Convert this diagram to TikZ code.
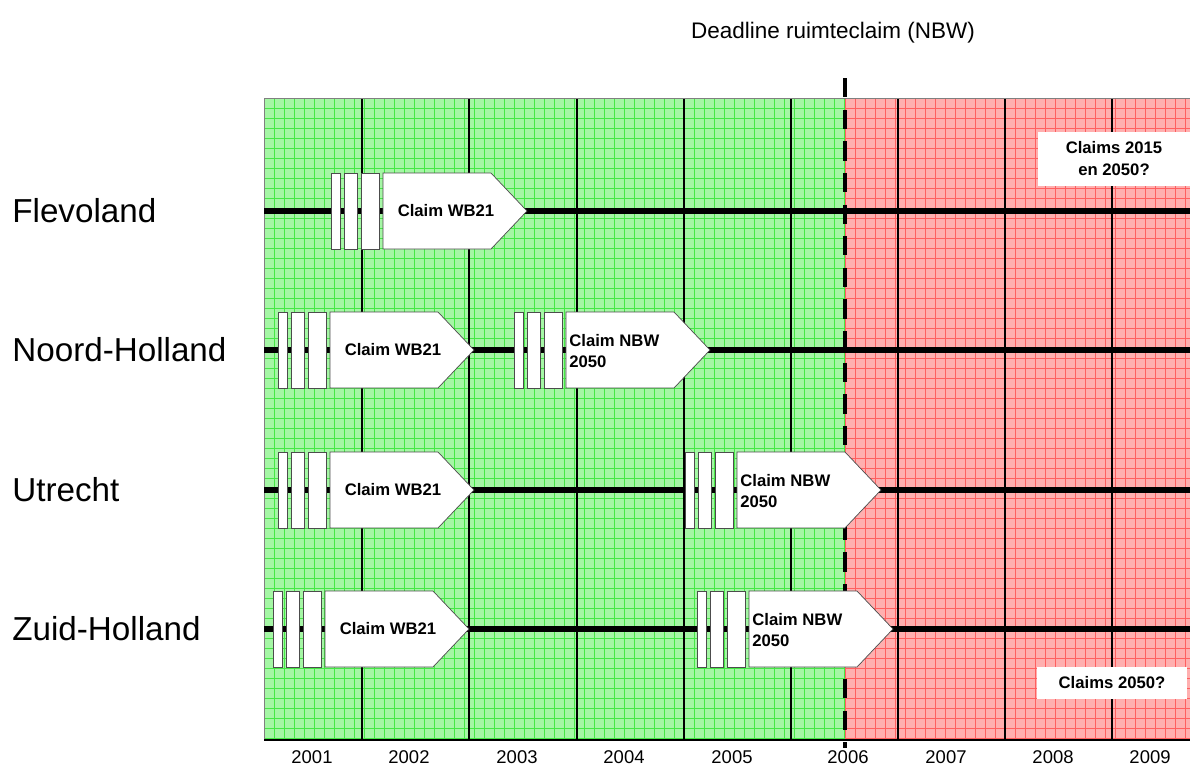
\documentclass[tikz,border=0pt]{standalone}
\usepackage{fontspec}
\setmainfont{Liberation Sans}
\usetikzlibrary{positioning}
\definecolor{okfill}{RGB}{165,246,165}
\definecolor{okgrid}{RGB}{70,232,70}
\definecolor{latefill}{RGB}{255,175,175}
\definecolor{lategrid}{RGB}{255,95,95}
\begin{document}
\begin{tikzpicture}[x=0.02cm,y=-0.02cm,
  rowlabel/.style={anchor=west,inner sep=0pt,font=\fontsize{18.9}{22}\selectfont},
  yearlabel/.style={inner sep=0pt,font=\fontsize{10.5}{12}\selectfont},
  timeline/.style={line width=3.2pt},
  yearline/.style={line width=0.8pt},
  deadline/.style={line width=2.8pt,dash pattern=on 11pt off 7pt},
  bar/.style={draw=black!70,fill=white,line width=0.4pt},
  claimbox/.style={draw=black!70,fill=white,line width=0.4pt},
  claimtext/.style={inner sep=0pt,font=\fontsize{9.5}{12}\selectfont\bfseries},
  notebox/.style={fill=white,inner sep=0pt,align=center,font=\fontsize{9.5}{12.5}\selectfont\bfseries}]
\useasboundingbox (0,0) rectangle (1190,769);
% achtergrond: groen tot de deadline, rood erna
\fill[okfill] (264,98) rectangle (845,740);
\fill[latefill] (845,98) rectangle (1190,740);
\begin{scope}
  \clip (264,98) rectangle (845,740);
  \foreach \x in {264,274,...,845} \draw[okgrid,line width=0.3pt] (\x,98) -- (\x,740);
  \foreach \y in {98,108,...,740} \draw[okgrid,line width=0.3pt] (264,\y) -- (845,\y);
\end{scope}
\begin{scope}
  \clip (845,98) rectangle (1190,740);
  \foreach \x in {845,855,...,1190} \draw[lategrid,line width=0.3pt] (\x,98) -- (\x,740);
  \foreach \y in {98,108,...,740} \draw[lategrid,line width=0.3pt] (845,\y) -- (1190,\y);
\end{scope}
\foreach \x in {362,469,577,684,791,898,1005,1112} \draw[yearline] (\x,98) -- (\x,740);
\draw[black!50,line width=0.4pt] (264,740) -- (264,98) -- (1190,98);
\draw[line width=0.8pt] (264,740) -- (1190,740);

% provincies
\node[rowlabel] (flevo) at (12,211) {Flevoland};
\node[rowlabel] (nholl) at (12,350) {Noord-Holland};
\node[rowlabel] (utr) at (12,490) {Utrecht};
\node[rowlabel] (zholl) at (12,629) {Zuid-Holland};
\foreach \n/\y in {flevo/211,nholl/350,utr/490,zholl/629} {
  \coordinate (\n-s) at (264,\y);
  \coordinate (\n-e) at (1190,\y);
  \draw[timeline] (\n-s) -- (\n-e);
}

% deadline
\coordinate (dl-top) at (845,78);
\coordinate (dl-bot) at (845,748);
\draw[deadline] (dl-top) -- (dl-bot);
\node[font=\fontsize{12.8}{15}\selectfont] (dl) at (833,33) {Deadline ruimteclaim (NBW)};

% claims
\foreach \a/\y/\n/\k in {383/211/f1/0,330/350/n1/0,566/350/n2/1,330/490/u1/0,737/490/u2/1,325/629/z1/0,749/629/z2/1} {
  \draw[bar] ({\a-52},{\y-38}) rectangle ({\a-43},{\y+38});
  \draw[bar] ({\a-39},{\y-38}) rectangle ({\a-26},{\y+38});
  \draw[bar] ({\a-22},{\y-38}) rectangle ({\a-4},{\y+38});
  \draw[claimbox] (\a,{\y-38}) -- ({\a+108},{\y-38}) -- ({\a+144},\y)
    -- ({\a+108},{\y+38}) -- (\a,{\y+38}) -- cycle;
  \ifnum\k=0
    \node[claimtext] (\n) at ({\a+63},\y) {Claim WB21};
  \else
    \node[claimtext,anchor=west,align=left] (\n) at ({\a+3},{\y+1}) {Claim NBW\\2050};
  \fi
}

% open vragen
\node[notebox,minimum width=3.04cm,minimum height=1.08cm] (late1) at (1114,159) {Claims 2015\\en 2050?};
\node[notebox,minimum width=3.02cm,minimum height=0.64cm] (late2) at (1112,683) {Claims 2050?};

% jaren
\foreach \x/\j in {312/2001,409/2002,517/2003,624/2004,732/2005,848/2006,946/2007,1053/2008,1150/2009}
  \node[yearlabel] (y\j) at (\x,757) {\j};
\end{tikzpicture}
\end{document}
